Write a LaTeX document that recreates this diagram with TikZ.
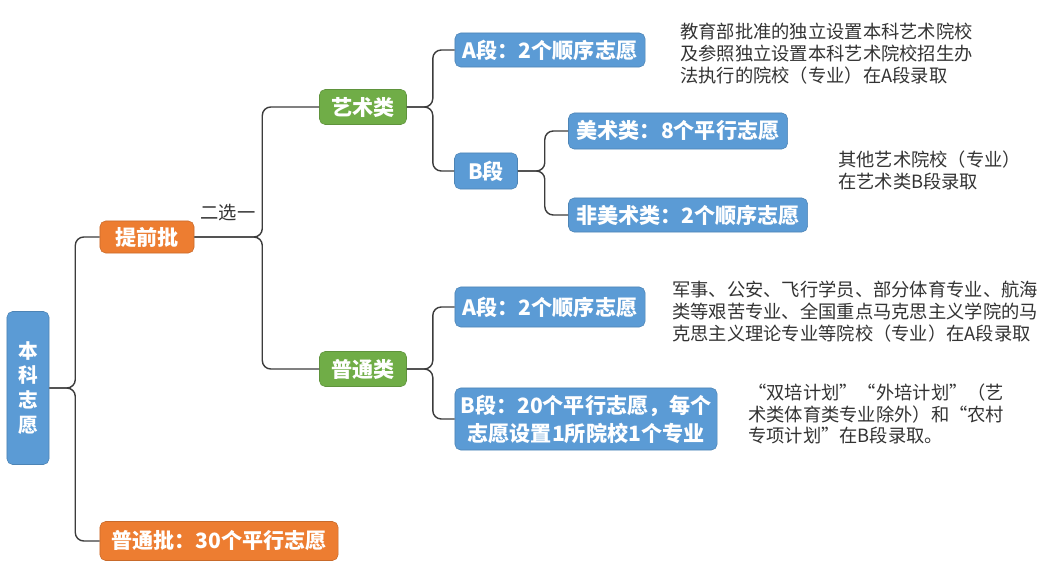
\documentclass[tikz,border=0pt]{standalone}
\usepackage{fontspec}
\setmainfont{Noto Sans CJK SC}
\usepackage{xcolor}
\usepackage{tikz}
\usetikzlibrary{positioning}
\definecolor{boxblue}{HTML}{5B9BD5}
\definecolor{boxorange}{HTML}{ED7D31}
\definecolor{boxgreen}{HTML}{70AD47}
\definecolor{linegray}{HTML}{3C3C3C}
\definecolor{notegray}{HTML}{333333}

\begin{document}
\begin{tikzpicture}[
        x=0.025cm, y=-0.025cm,
        every node/.style={
            rectangle,
            rounded corners=4pt,
            text=white,
            align=center,
            inner sep=0pt,
            font=\fontsize{15}{20}\selectfont\bfseries
        },
        link/.style={
            draw=linegray,
            line width=1pt,
            rounded corners=6pt
        },
        bluebox/.style={fill=boxblue, draw=boxblue!85!black},
        orangebox/.style={fill=boxorange, draw=boxorange!85!black},
        greenbox/.style={fill=boxgreen, draw=boxgreen!85!black},
        note/.style={
            fill=none,
            draw=none,
            text=notegray,
            align=left,
            anchor=west,
            font=\fontsize{13}{15.6}\selectfont
        }
    ]
        \useasboundingbox (0,0) rectangle (1053,572);

        \node (root) [bluebox, minimum width=1.05cm, minimum height=3.825cm,
            font=\fontsize{14}{17.7}\selectfont\bfseries] at (28,388) {本\\科\\志\\愿};
        \node (early) [orangebox, minimum width=2.35cm, minimum height=0.8cm] at (147,237) {提前批};
        \node (regular) [orangebox, minimum width=5.95cm, minimum height=0.975cm] at (219,541) {普通批：30个平行志愿};

        \node (arts) [greenbox, minimum width=2.175cm, minimum height=0.875cm] at (363,107) {艺术类};
        \node (general) [greenbox, minimum width=2.175cm, minimum height=0.875cm] at (363,369) {普通类};

        \node (artsA) [bluebox, minimum width=4.75cm, minimum height=0.85cm] at (550,50) {A段：2个顺序志愿};
        \node (artsB) [bluebox, minimum width=1.575cm, minimum height=0.9cm] at (486,171) {B段};
        \node (fine) [bluebox, minimum width=5.475cm, minimum height=0.9cm] at (678,131) {美术类：8个平行志愿};
        \node (nonfine) [bluebox, minimum width=5.975cm, minimum height=0.85cm] at (688,215) {非美术类：2个顺序志愿};

        \node (genA) [bluebox, minimum width=4.75cm, minimum height=1cm] at (550,307) {A段：2个顺序志愿};
        \node (genB) [bluebox, minimum width=6.55cm, minimum height=1.55cm] at (586,419) {B段：20个平行志愿，每个\\志愿设置1所院校1个专业};

        % notes beside the boxes
        \node (noteartsA) [note] at (680,54) {教育部批准的独立设置本科艺术院校\\及参照独立设置本科艺术院校招生办\\法执行的院校（专业）在A段录取};
        \node (noteartsB) [note] at (838,170) {其他艺术院校（专业）\\在艺术类B段录取};
        \node (notegenA) [note] at (672,312) {军事、公安、飞行学员、部分体育专业、航海\\类等艰苦专业、全国重点马克思主义学院的马\\克思主义理论专业等院校（专业）在A段录取};
        \node (notegenB) [note] at (748,414) {“双培计划”“外培计划”（艺\\术类体育类专业除外）和“农村\\专项计划”在B段录取。};

        \node (choose) [note, anchor=center] at (228,213) {二选一};

        \draw[link] (root.east) -- ++(26,0) |- (early.west);
        \draw[link] (root.east) -- ++(26,0) |- (regular.west);
        \draw[link] (early.east) -- ++(68,0) |- (arts.west);
        \draw[link] (early.east) -- ++(68,0) |- (general.west);
        \draw[link] (arts.east) -- ++(26,0) |- (artsA.west);
        \draw[link] (arts.east) -- ++(26,0) |- (artsB.west);
        \draw[link] (artsB.east) -- ++(27,0) |- (fine.west);
        \draw[link] (artsB.east) -- ++(27,0) |- (nonfine.west);
        \draw[link] (general.east) -- ++(26,0) |- (genA.west);
        \draw[link] (general.east) -- ++(26,0) |- (genB.west);
    \end{tikzpicture}
\end{document}
